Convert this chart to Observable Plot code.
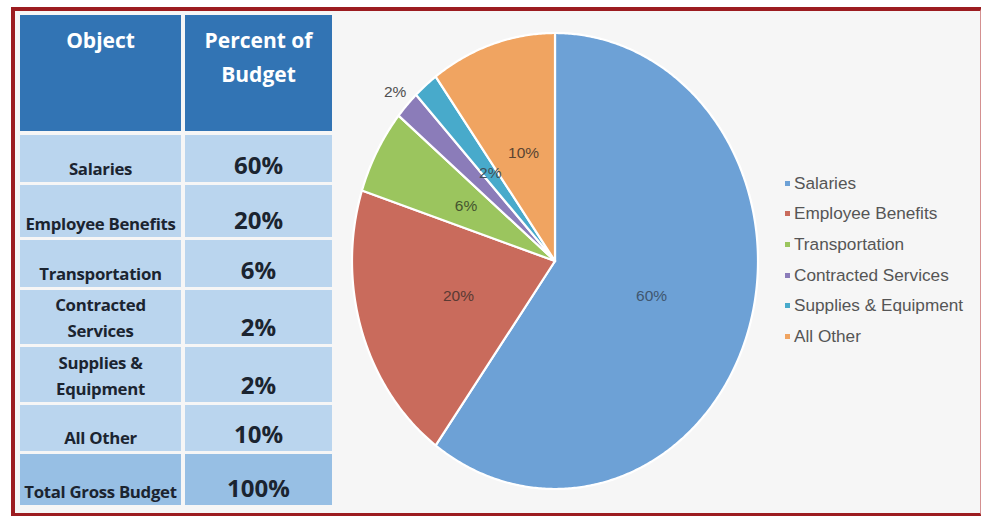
<!DOCTYPE html>
<html>
<head>
<meta charset="utf-8">
<script src="https://cdn.jsdelivr.net/npm/d3@7"></script>
<script src="https://cdn.jsdelivr.net/npm/@observablehq/plot@0.6"></script>
<style>
  html, body { margin:0; padding:0; background:#ffffff; }
  body { width:981px; height:516px; position:relative; overflow:hidden; }
  #frame { position:absolute; left:11px; top:7px; width:965px; height:502px;
    border-top:4px solid #9c1c20; border-bottom:4px solid #9c1c20; border-left:4px solid #9c1c20;
    border-right:2px solid #d49090; background:#f6f6f6; }
  #tbl { position:absolute; left:0; top:0; font-family:"Open Sans", sans-serif; font-weight:700; color:#1b2430; }
  #tbl .cell { position:absolute; box-sizing:border-box; display:flex; flex-direction:column;
    justify-content:flex-end; align-items:center; text-align:center; white-space:nowrap; }
  #tbl .head { background:#3274b4; color:#ffffff; font-size:21px; line-height:34px; justify-content:flex-start; padding-top:8px; }
  #tbl .body { background:#bad5ee; }
  #tbl .total { background:#97bfe4; }
  #tbl .lab { font-size:16.8px; line-height:26px; letter-spacing:-0.3px; }
  #tbl .val { font-size:24px; line-height:30px; padding-bottom:2px; }
  #pie { position:absolute; left:340px; top:20px; }
  #legend { position:absolute; left:784px; top:168px; font-family:"Liberation Sans", Arial, sans-serif;
    font-size:17.2px; color:#555555; }
  #legend .item { height:30.6px; display:flex; align-items:center; white-space:nowrap; }
  #legend .sw { width:5px; height:5px; margin-right:4px; margin-left:1px; }
</style>
</head>
<body>
<div id="frame"></div>
<div id="tbl"></div>
<div id="pie"></div>
<div id="legend"></div>
<script>
// ---- data ----
const categories = ["Salaries", "Employee Benefits", "Transportation", "Contracted Services", "Supplies & Equipment", "All Other"];
const percents = [60, 20, 6, 2, 2, 10];
const tableLabels = ["Salaries", "Employee Benefits", "Transportation", "Contracted\nServices", "Supplies &\nEquipment", "All Other"];
const headerLabels = ["Object", "Percent of\nBudget"];
const totalLabel = "Total Gross Budget";
const totalValue = 100;
const colors = ["#6da1d6", "#c96b5c", "#9bc55e", "#8b7cb9", "#48aacb", "#f0a461"];
const labelColors = ["#3f5670", "#5a3a33", "#45552f", "#4f4f4f", "#3e4f5a", "#5a4532"];
const outsideLabels = ["Contracted Services"];

// ---- table layout (pixel boxes of the rows and columns) ----
const rowBoxes = [[15, 131], [135, 182], [185, 237], [240, 287], [290, 344], [347, 402], [405, 451], [454, 505]];
const colBoxes = [[20, 181], [185, 332]];
const tbl = document.getElementById("tbl");
function addCell(cls, text, row, col) {
  const d = document.createElement("div");
  d.className = "cell " + cls;
  d.style.left = colBoxes[col][0] + "px";
  d.style.width = (colBoxes[col][1] - colBoxes[col][0]) + "px";
  d.style.top = rowBoxes[row][0] + "px";
  d.style.height = (rowBoxes[row][1] - rowBoxes[row][0]) + "px";
  String(text).split("\n").forEach(line => {
    const s = document.createElement("div");
    s.textContent = line;
    d.appendChild(s);
  });
  tbl.appendChild(d);
}
addCell("head", headerLabels[0], 0, 0);
addCell("head", headerLabels[1], 0, 1);
tableLabels.forEach((l, i) => {
  addCell("body lab", l, i + 1, 0);
  addCell("body val", percents[i] + "%", i + 1, 1);
});
addCell("total lab", totalLabel, 7, 0);
addCell("total val", totalValue + "%", 7, 1);

// ---- pie geometry from the values ----
const total = d3.sum(percents);
let acc = 0;
const arcs = [];
const labels = [];
categories.forEach((c, i) => {
  const a0 = acc / total * 2 * Math.PI;
  acc += percents[i];
  const a1 = acc / total * 2 * Math.PI;
  const n = Math.max(4, Math.ceil((a1 - a0) / (Math.PI / 360)));
  arcs.push({category: c, x: 0, y: 0});
  for (let k = 0; k <= n; k++) {
    const a = a0 + (a1 - a0) * k / n;
    arcs.push({category: c, x: Math.sin(a), y: Math.cos(a)});
  }
  arcs.push({category: c, x: 0, y: 0});
  const am = (a0 + a1) / 2;
  const outside = outsideLabels.includes(c);
  const r = outside ? 1.08 : 0.5;
  labels.push({category: c, x: r * Math.sin(am), y: r * Math.cos(am), text: percents[i] + "%",
    color: outside ? "#4f4f4f" : labelColors[i]});
});

const plot = Plot.plot({
  width: 430, height: 480,
  marginTop: 0, marginRight: 0, marginBottom: 0, marginLeft: 0,
  x: {domain: [-1, 1], range: [11.5, 417.5], axis: null},
  y: {domain: [-1, 1], range: [468.5, 12.5], axis: null},
  color: {domain: categories, range: colors},
  style: {background: "transparent", overflow: "visible"},
  marks: [
    Plot.line(arcs, {x: "x", y: "y", z: "category", fill: "category", stroke: "#ffffff", strokeWidth: 2.2, strokeLinejoin: "round"}),
    Plot.text(labels, {x: "x", y: "y", text: "text", fill: d => d.color, fontSize: 15.5, fontFamily: "Liberation Sans, Arial, sans-serif"})
  ]
});
document.getElementById("pie").appendChild(plot);

// ---- legend ----
const lg = document.getElementById("legend");
categories.forEach((c, i) => {
  const it = document.createElement("div");
  it.className = "item";
  it.innerHTML = `<span class="sw" style="background:${colors[i]}"></span><span>${c}</span>`;
  lg.appendChild(it);
});
</script>
</body>
</html>
